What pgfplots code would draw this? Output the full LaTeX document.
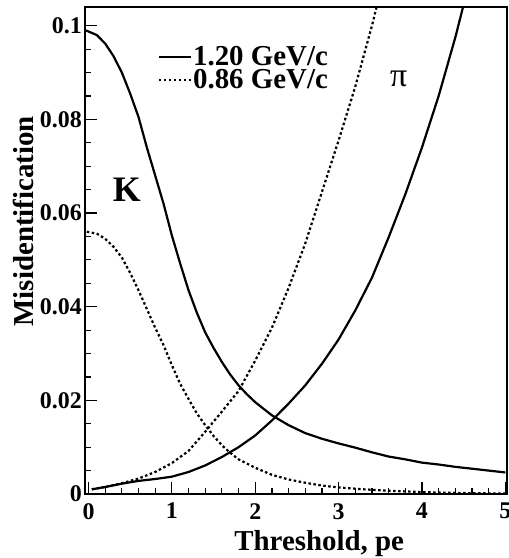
\documentclass[border=0pt]{standalone}
\usepackage{fontspec}
\setmainfont{Liberation Serif}
\usepackage{pgfplots}
\pgfplotsset{compat=1.18}

\begin{document}
\begin{tikzpicture}
\begin{axis}[
    scale only axis,
    width=422bp, height=487bp,
    xmin=-0.042, xmax=5.02,
    ymin=0, ymax=0.104,
    axis line style={line width=2.2bp},
    tick align=inside, tick pos=left,
    xtick={0,1,2,3,4,5}, xticklabels={0,1,2,3,4,5},
    ytick={0,0.02,0.04,0.06,0.08,0.1},
    yticklabels={0,0.02,0.04,0.06,0.08,0.1},
    minor x tick num=4, minor y tick num=3,
    major tick length=12bp, minor tick length=6bp,
    every tick/.style={black, line width=1.2bp},
    ticklabel style={font=\bfseries\fontsize{24}{24}\selectfont, inner sep=1bp},
    xticklabel style={yshift=-8bp},
    yticklabel style={xshift=-2bp},
    xlabel={Threshold, pe},
    ylabel={Misidentification},
    label style={font=\bfseries\fontsize{29}{29}\selectfont},
    xlabel style={at={(axis description cs:0.555,-0.115)}, anchor=base},
    ylabel style={at={(axis description cs:-0.123,0.56)}, anchor=base},
    legend cell align=left,
    legend style={at={(axis cs:0.83,0.0958)}, anchor=north west,
        draw=none, fill=none, inner sep=0pt,
        font=\bfseries\fontsize{29}{29}\selectfont,
        nodes={inner sep=1bp},
        /tikz/every even column/.append style={column sep=0bp}},
    legend image code/.code={\draw[#1] (0bp,0bp) -- (32bp,0bp);},
]

% K, 1.20 GeV/c
\addplot[black, line width=2.2bp] table {
-0.03 0.0990
0.1 0.0980
0.2 0.0962
0.3 0.0935
0.4 0.0900
0.5 0.0855
0.6 0.0805
0.7 0.0740
0.8 0.0680
0.9 0.0620
1.0 0.0552
1.1 0.0492
1.2 0.0435
1.3 0.0387
1.4 0.0345
1.5 0.0312
1.6 0.0282
1.7 0.0255
1.8 0.0232
1.9 0.0213
2.0 0.0196
2.2 0.0168
2.4 0.0147
2.6 0.0130
2.8 0.0118
3.0 0.0108
3.2 0.0099
3.4 0.0089
3.6 0.0080
3.8 0.0074
4.0 0.0067
4.2 0.0063
4.4 0.0058
4.6 0.0054
4.8 0.0050
5.0 0.0046
};
\addlegendentry{1.20 GeV/c}

% K, 0.86 GeV/c
\addplot[black, line width=2.2bp, dash pattern=on 2.5bp off 2.5bp] table {
-0.02 0.0560
0.1 0.0556
0.2 0.0545
0.3 0.0528
0.4 0.0505
0.5 0.0472
0.6 0.0435
0.7 0.0395
0.8 0.0355
0.9 0.0318
1.0 0.0275
1.1 0.0235
1.2 0.0203
1.3 0.0172
1.4 0.0147
1.5 0.0124
1.6 0.0104
1.7 0.0088
1.8 0.0074
2.0 0.0056
2.2 0.0041
2.4 0.0031
2.6 0.0024
2.8 0.0018
3.0 0.0014
3.3 0.0010
3.6 0.0007
4.0 0.0004
4.5 0.0002
5.0 0.0001
};
\addlegendentry{0.86 GeV/c}

% pi, 1.20 GeV/c
\addplot[black, line width=2.2bp, forget plot] table {
0.04 0.0010
0.2 0.0015
0.4 0.0022
0.6 0.0028
0.8 0.0032
1.0 0.0037
1.2 0.0047
1.4 0.0061
1.6 0.0079
1.8 0.0100
2.0 0.0125
2.2 0.0157
2.4 0.0193
2.6 0.0232
2.8 0.0278
3.0 0.0330
3.2 0.0392
3.4 0.0462
3.6 0.0548
3.8 0.0640
4.0 0.0740
4.2 0.0850
4.4 0.0975
4.5 0.1045
};

% pi, 0.86 GeV/c
\addplot[black, line width=2.2bp, dash pattern=on 2.5bp off 2.5bp, forget plot] table {
0.04 0.0010
0.2 0.0015
0.4 0.0023
0.6 0.0033
0.8 0.0047
1.0 0.0066
1.2 0.0092
1.4 0.0133
1.6 0.0176
1.8 0.0220
2.0 0.0285
2.2 0.0355
2.4 0.0440
2.6 0.0535
2.8 0.0645
3.0 0.0755
3.2 0.0870
3.4 0.1000
3.5 0.1072
};

\node[font=\bfseries\fontsize{36}{36}\selectfont] at (axis cs:0.46,0.065) {K};
\node[font=\fontsize{34}{34}\selectfont] at (axis cs:3.72,0.0886) {π};
\end{axis}
\pgfresetboundingbox
\path ([shift={(-85bp,-64bp)}]current axis.south west) rectangle ([shift={(2bp,7bp)}]current axis.north east);
\end{tikzpicture}
\end{document}
